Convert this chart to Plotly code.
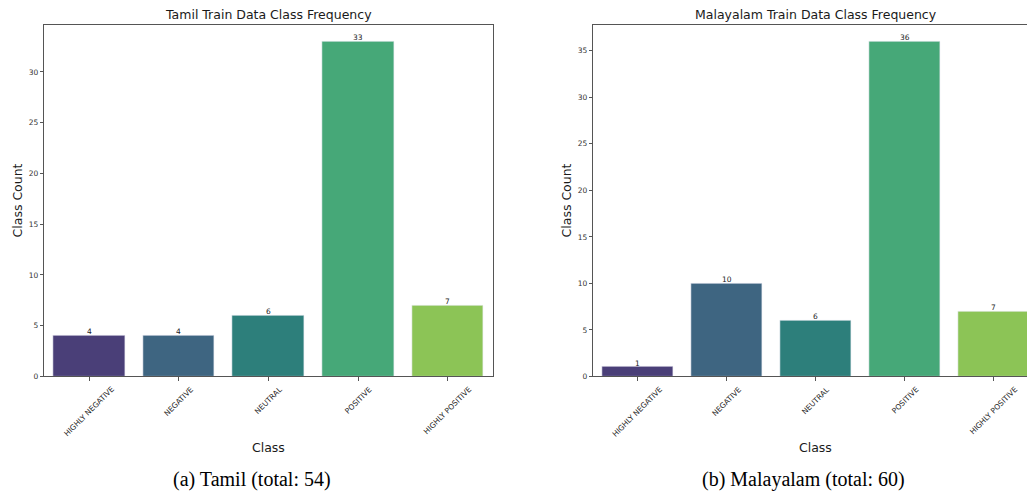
import plotly.graph_objects as go

# Class labels and per-class counts for each language
classes = ["HIGHLY NEGATIVE", "NEGATIVE", "NEUTRAL", "POSITIVE", "HIGHLY POSITIVE"]
tamil_counts = [4, 4, 6, 33, 7]
malayalam_counts = [1, 10, 6, 36, 7]
bar_colors = ["#4a3f78", "#3e6581", "#2d7f7b", "#46a878", "#8cc456"]

y_ticks = [0, 5, 10, 15, 20, 25, 30, 35]

W, H = 1027, 497


def px_x(p):
    return p / W


def px_y(p):
    return (H - p) / H


fig = go.Figure()

for counts, xa, ya in [(tamil_counts, "x", "y"), (malayalam_counts, "x2", "y2")]:
    fig.add_trace(go.Bar(
        x=list(range(len(classes))),
        y=counts,
        width=0.8,
        marker=dict(color=bar_colors, line=dict(color="rgba(235,235,245,0.7)", width=0.8)),
        xaxis=xa, yaxis=ya,
        showlegend=False,
    ))

axis_common = dict(
    showline=True, linecolor="#555", linewidth=1,
    ticks="outside", ticklen=3.5, tickwidth=0.8, tickcolor="#555",
    showgrid=False, zeroline=False,
    tickfont=dict(family="DejaVu Sans", size=7.5, color="#333"),
)

left_dom = [px_x(44.3), px_x(492.5)]
right_dom = [px_x(593.3), 1.0]
y_dom = [px_y(380.3), px_y(25)]

# Right panel spans past the figure edge, so its x range is cut short
right_span = (1027 - 593.3) / 89.0 - 0.5

fig.update_layout(
    width=W, height=H,
    margin=dict(l=0, r=0, t=0, b=0),
    plot_bgcolor="white", paper_bgcolor="white",
    bargap=0,
    xaxis=dict(axis_common, domain=left_dom, range=[-0.5, 4.5], mirror=True,
               tickvals=list(range(5)), showticklabels=False, anchor="y"),
    yaxis=dict(axis_common, domain=y_dom, range=[0, max(tamil_counts) * 1.05],
               mirror=True, tickvals=y_ticks, anchor="x"),
    xaxis2=dict(axis_common, domain=right_dom, range=[-0.5, right_span], mirror=True,
                tickvals=list(range(5)), showticklabels=False, anchor="y2"),
    yaxis2=dict(axis_common, domain=y_dom, range=[0, max(malayalam_counts) * 1.05],
                mirror=False, tickvals=y_ticks, anchor="x2"),
)

ann = []
label_font = dict(family="DejaVu Sans", size=7.5, color="#222")
title_font = dict(family="DejaVu Sans", size=12.5, color="#1a1a1a")

# Count labels sitting on top of each bar
for counts, xa, ya in [(tamil_counts, "x", "y"), (malayalam_counts, "x2", "y2")]:
    for i, v in enumerate(counts):
        ann.append(dict(x=i, y=v, xref=xa, yref=ya, text=str(v), showarrow=False,
                        xanchor="center", yanchor="bottom", yshift=-2.5,
                        font=label_font))

# Rotated category labels centred under each tick
for xa in ["x", "x2"]:
    for i, c in enumerate(classes):
        ann.append(dict(x=i, y=px_y(386), xref=xa, yref="paper", text=c,
                        textangle=-45, showarrow=False, xanchor="center",
                        yanchor="top", font=label_font))

# Panel titles, axis titles and captions
panels = [
    (268.4, 17, "Tamil Train Data Class Frequency", 252, "(a) Tamil (total: 54)"),
    (815.7, 566, "Malayalam Train Data Class Frequency", 803.5, "(b) Malayalam (total: 60)"),
]
for cx, ylab_x, title, cap_x, caption in panels:
    ann.append(dict(x=px_x(cx), y=px_y(15), xref="paper", yref="paper", text=title,
                    showarrow=False, xanchor="center", yanchor="middle", font=title_font))
    ann.append(dict(x=px_x(cx), y=px_y(452), xref="paper", yref="paper", text="Class",
                    showarrow=False, xanchor="center", yanchor="middle", font=title_font))
    ann.append(dict(x=px_x(ylab_x), y=px_y(202.5), xref="paper", yref="paper",
                    text="Class Count", textangle=-90, showarrow=False,
                    xanchor="center", yanchor="middle", font=title_font))
    ann.append(dict(x=px_x(cap_x), y=px_y(484), xref="paper", yref="paper", text=caption,
                    showarrow=False, xanchor="center", yanchor="middle",
                    font=dict(family="Liberation Serif", size=20, color="black")))

fig.update_layout(annotations=ann)

fig.write_html("out.html")
